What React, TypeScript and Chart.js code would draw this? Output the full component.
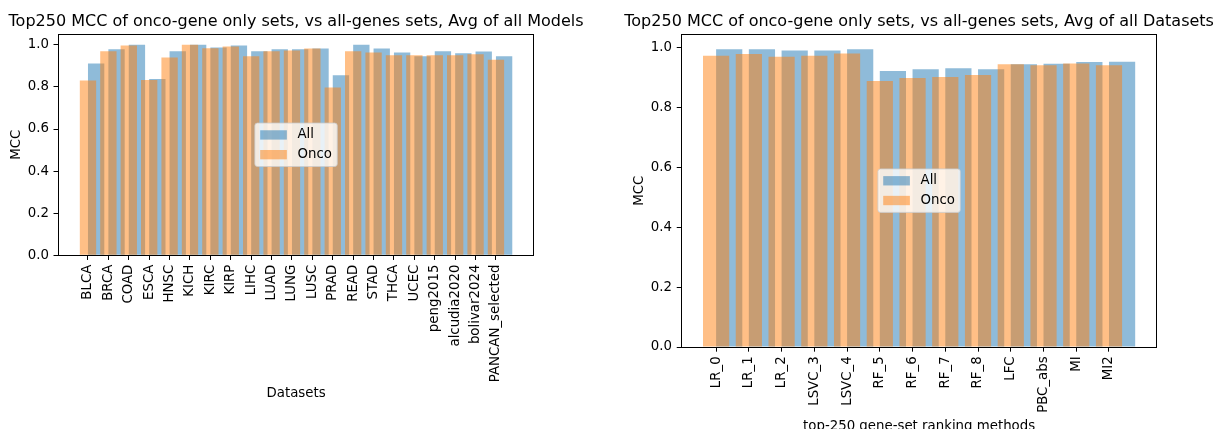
import React, { useEffect, useRef } from "react";
import { Chart, registerables } from "chart.js";

Chart.register(...registerables);

// ---------- data ----------
const datasetNames = [
  "BLCA", "BRCA", "COAD", "ESCA", "HNSC", "KICH", "KIRC", "KIRP", "LIHC", "LUAD", "LUNG",
  "LUSC", "PRAD", "READ", "STAD", "THCA", "UCEC", "peng2015", "alcudia2020", "bolivar2024", "PANCAN_selected",
];
const datasetAll = [
  0.911, 0.979, 1.0, 0.838, 0.970, 1.0, 0.987, 0.997, 0.970, 0.979, 0.979,
  0.982, 0.855, 1.0, 0.982, 0.963, 0.946, 0.970, 0.960, 0.968, 0.946,
];
const datasetOnco = [
  0.831, 0.970, 0.997, 0.833, 0.940, 1.0, 0.984, 0.992, 0.946, 0.970, 0.973,
  0.982, 0.797, 0.970, 0.963, 0.950, 0.950, 0.950, 0.950, 0.955, 0.929,
];

const methodNames = [
  "LR_0", "LR_1", "LR_2", "LSVC_3", "LSVC_4", "RF_5", "RF_6", "RF_7", "RF_8", "LFC", "PBC_abs", "MI", "MI2",
];
const methodAll = [
  0.996, 0.996, 0.992, 0.992, 0.996, 0.923, 0.929, 0.932, 0.929, 0.946, 0.947, 0.953, 0.954,
];
const methodOnco = [
  0.974, 0.980, 0.971, 0.974, 0.982, 0.890, 0.900, 0.903, 0.910, 0.946, 0.942, 0.948, 0.942,
];

const yTicks = [0, 0.2, 0.4, 0.6, 0.8, 1.0];
const seriesLabels = ["All", "Onco"];

// ---------- style ----------
const FONT = "'DejaVu Sans', sans-serif";
const FS = 13.33;
const TITLE_FS = 16;
const TICK_LEN = 4.67;
const TICK_PAD = 4.67;
const BLUE = "rgba(31,119,180,0.5)";
const ORANGE = "rgba(255,127,14,0.5)";

type Area = { left: number; top: number; right: number; bottom: number };
type Spec = {
  title: string;
  xLabel: string;
  categories: string[];
  all: number[];
  onco: number[];
  width: number;
  height: number;
  area: Area;
  yTitleX: number;
  xTitleY: number;
};

const align1 = (p: number) => Math.round(p - 0.5) + 0.5;

const framePlugin = {
  id: "mplFrame",
  afterDatasetsDraw(chart: any) {
    const { ctx, chartArea } = chart;
    const l = align1(chartArea.left);
    const r = align1(chartArea.right);
    const t = align1(chartArea.top);
    const b = align1(chartArea.bottom);
    ctx.save();
    ctx.strokeStyle = "#000";
    ctx.lineWidth = 1;
    ctx.strokeRect(l, t, r - l, b - t);
    ctx.restore();
  },
};

const makeTitlePlugin = (text: string) => ({
  id: "mplTitle",
  afterDraw(chart: any) {
    const { ctx, chartArea } = chart;
    ctx.save();
    ctx.font = `${TITLE_FS}px ${FONT}`;
    ctx.fillStyle = "#000";
    ctx.textAlign = "center";
    ctx.textBaseline = "alphabetic";
    ctx.fillText(text, (chartArea.left + chartArea.right) / 2, chartArea.top - 8);
    ctx.restore();
  },
});

const legendPlugin = {
  id: "mplLegend",
  afterDraw(chart: any) {
    const { ctx, chartArea } = chart;
    const items = chart.data.datasets.map((d: any) => ({ label: d.label, color: d.backgroundColor }));
    ctx.save();
    ctx.font = `${FS}px ${FONT}`;
    const pad = 0.4 * FS;
    const hl = 2 * FS;
    const htp = 0.8 * FS;
    const rowH = 0.98 * FS;
    const gap = 0.5 * FS;
    const tw = Math.max(...items.map((it: any) => ctx.measureText(it.label).width));
    const w = 2 * pad + hl + htp + tw;
    const h = 2 * pad + items.length * rowH + (items.length - 1) * gap;
    const cx = (chartArea.left + chartArea.right) / 2;
    const cy = (chartArea.top + chartArea.bottom) / 2;
    const x0 = cx - w / 2;
    const y0 = cy - h / 2;
    const r = 0.2 * FS;
    ctx.beginPath();
    if (typeof ctx.roundRect === "function") {
      ctx.roundRect(x0, y0, w, h, r);
    } else {
      ctx.rect(x0, y0, w, h);
    }
    ctx.fillStyle = "rgba(255,255,255,0.8)";
    ctx.fill();
    ctx.strokeStyle = "rgba(204,204,204,0.8)";
    ctx.lineWidth = 1;
    ctx.stroke();
    items.forEach((it: any, i: number) => {
      const yc = y0 + pad + rowH / 2 + i * (rowH + gap);
      ctx.fillStyle = it.color;
      ctx.fillRect(x0 + pad, yc - 0.35 * FS, hl, 0.7 * FS);
      ctx.fillStyle = "#000";
      ctx.textBaseline = "middle";
      ctx.textAlign = "left";
      ctx.fillText(it.label, x0 + pad + hl + htp, yc);
    });
    ctx.restore();
  },
};

function buildChart(canvas: HTMLCanvasElement, spec: Spec) {
  const n = spec.categories.length;
  const lo = -0.4;
  const hi = n - 1 + 0.8;
  const m = 0.05 * (hi - lo);
  const xMin = lo - m;
  const xMax = hi + m;
  const shift = 0.4;
  const yMax = 1.05 * Math.max(...spec.all, ...spec.onco);
  const lh = FS * 1.2;
  const { area, width, height } = spec;
  const catTicks = (scale: any) => {
    scale.ticks = spec.categories.map((_, i) => ({ value: i }));
  };
  const font = { family: FONT, size: FS };

  return new Chart(canvas, {
    type: "bar",
    data: {
      datasets: [
        {
          label: seriesLabels[0],
          data: spec.categories.map((_, i) => ({ x: i, y: spec.all[i] })),
          xAxisID: "x2",
          backgroundColor: BLUE,
          borderWidth: 0,
          order: 1,
          grouped: false,
          categoryPercentage: 1,
          barPercentage: 0.8,
        } as any,
        {
          label: seriesLabels[1],
          data: spec.categories.map((_, i) => ({ x: i, y: spec.onco[i] })),
          xAxisID: "x",
          backgroundColor: ORANGE,
          borderWidth: 0,
          order: 0,
          grouped: false,
          categoryPercentage: 1,
          barPercentage: 0.8,
        } as any,
      ],
    },
    options: {
      responsive: false,
      animation: false,
      devicePixelRatio: 1,
      events: [],
      layout: { padding: { left: 0, top: area.top, right: width - area.right, bottom: 0 } },
      plugins: {
        legend: { display: false },
        title: { display: false },
        tooltip: { enabled: false },
      },
      scales: {
        x: {
          type: "linear",
          position: "bottom",
          min: xMin,
          max: xMax,
          offset: false,
          grid: {
            display: true,
            offset: false,
            drawOnChartArea: false,
            drawTicks: true,
            tickLength: TICK_LEN,
            color: "#000",
            lineWidth: 1,
          },
          border: { display: false },
          ticks: {
            autoSkip: false,
            maxRotation: 90,
            minRotation: 90,
            padding: TICK_PAD,
            color: "#000",
            font,
            callback: (v: any) => spec.categories[Math.round(Number(v))] ?? "",
          },
          afterBuildTicks: catTicks,
          afterFit: (s: any) => {
            s.height = height - area.bottom;
          },
          title: {
            display: true,
            text: spec.xLabel,
            color: "#000",
            font,
            padding: { top: 0, bottom: height - spec.xTitleY - lh / 2 },
          },
        } as any,
        x2: {
          type: "linear",
          axis: "x",
          position: "bottom",
          display: false,
          min: xMin - shift,
          max: xMax - shift,
          offset: false,
          grid: { offset: false },
          afterBuildTicks: catTicks,
        } as any,
        y: {
          type: "linear",
          position: "left",
          min: 0,
          max: yMax,
          grid: {
            display: true,
            drawOnChartArea: false,
            drawTicks: true,
            tickLength: TICK_LEN,
            color: "#000",
            lineWidth: 1,
          },
          border: { display: false },
          ticks: {
            padding: TICK_PAD,
            color: "#000",
            font,
            callback: (v: any) => Number(v).toFixed(1),
          },
          afterBuildTicks: (s: any) => {
            s.ticks = yTicks.map((v) => ({ value: v }));
          },
          afterFit: (s: any) => {
            s.width = area.left;
          },
          title: {
            display: true,
            text: "MCC",
            color: "#000",
            font,
            padding: { top: spec.yTitleX - lh / 2, bottom: 0 },
          },
        } as any,
      },
    },
    plugins: [framePlugin, makeTitlePlugin(spec.title), legendPlugin],
  } as any);
}

const leftSpec: Spec = {
  title: "Top250 MCC of onco-gene only sets, vs all-genes sets, Avg of all Models",
  xLabel: "Datasets",
  categories: datasetNames,
  all: datasetAll,
  onco: datasetOnco,
  width: 607,
  height: 429,
  area: { left: 58.2, top: 34.3, right: 533.9, bottom: 255.3 },
  yTitleX: 16.1,
  xTitleY: 393.3,
};

const rightSpec: Spec = {
  title: "Top250 MCC of onco-gene only sets, vs all-genes sets, Avg of all Datasets",
  xLabel: "top-250 gene-set ranking methods",
  categories: methodNames,
  all: methodAll,
  onco: methodOnco,
  width: 607,
  height: 445,
  area: { left: 74.4, top: 34.3, right: 549.8, bottom: 347 },
  yTitleX: 32.2,
  xTitleY: 426.5,
};

function Panel({ spec, left }: { spec: Spec; left: number }) {
  const ref = useRef<HTMLCanvasElement | null>(null);
  useEffect(() => {
    if (!ref.current) return;
    const chart = buildChart(ref.current, spec);
    return () => chart.destroy();
  }, [spec]);
  return (
    <canvas
      ref={ref}
      width={spec.width}
      height={spec.height}
      style={{ position: "absolute", left, top: 0, width: spec.width, height: spec.height, display: "block" }}
    />
  );
}

export default function App() {
  return (
    <div
      style={{
        position: "absolute",
        left: 0,
        top: 0,
        width: 1214,
        height: 429,
        overflow: "hidden",
        background: "#fff",
      }}
    >
      <Panel spec={leftSpec} left={0} />
      <Panel spec={rightSpec} left={607} />
    </div>
  );
}
